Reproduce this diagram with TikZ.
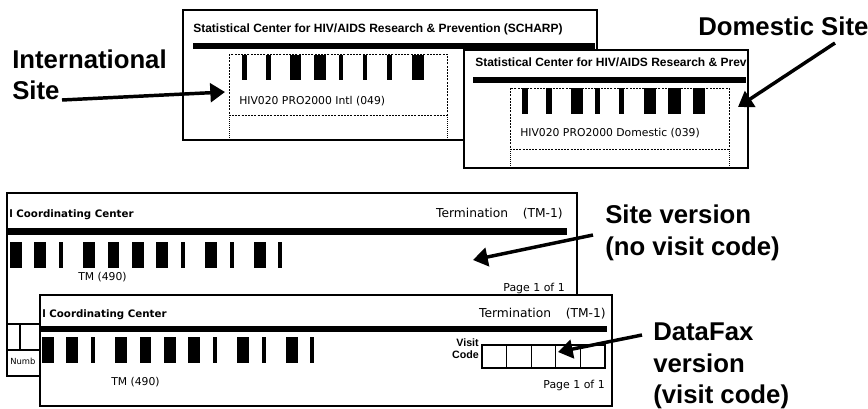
\documentclass[tikz,border=0pt]{standalone}
\usepackage{fontspec}
\setmainfont{Liberation Sans}
\newfontfamily\dvs{DejaVu Sans}
\usetikzlibrary{arrows.meta}
\begin{document}
\begin{tikzpicture}[x=0.75pt,y=-0.75pt,
  formbox/.style={draw=black,line width=1.5pt,fill=white},
  dashbox/.style={draw=black,line width=0.6pt,dash pattern=on 1.5pt off 0.9pt},
  dotline/.style={draw=black,line width=0.6pt,dash pattern=on 0.6pt off 0.9pt},
  thinline/.style={draw=black,line width=1pt},
  sharphdr/.style={font=\bfseries\fontsize{9}{11}\selectfont,inner sep=0pt,anchor=base west},
  cchdr/.style={font=\dvs\bfseries\fontsize{7.7}{9}\selectfont,inner sep=0pt,anchor=base west},
  formtxt/.style={font=\dvs\fontsize{8.1}{9.7}\selectfont,inner sep=0pt,anchor=base west},
  termtxt/.style={font=\dvs\fontsize{9.2}{11}\selectfont,inner sep=0pt,anchor=base east},
  pagetxt/.style={font=\dvs\fontsize{8.2}{10}\selectfont,inner sep=0pt,anchor=base east},
  visittxt/.style={font=\bfseries\fontsize{8}{9.5}\selectfont,inner sep=0pt,align=right,anchor=north east},
  smalltxt/.style={font=\dvs\fontsize{6.3}{7.5}\selectfont,inner sep=0pt,anchor=base west},
  callout/.style={font=\bfseries\fontsize{19.3}{23.5}\selectfont,inner sep=0pt,align=left},
  pointer/.style={line width=2.6pt,-{Triangle[length=11pt,width=14pt]}},
]
\useasboundingbox[fill=white] (0,0) rectangle (868,408);

% ---------- Form A: international ----------
\path[formbox] (183,10) rectangle (597,140);
\node[sharphdr] (hdrA) at (193,32) {Statistical Center for HIV/AIDS Research \& Prevention (SCHARP)};
\fill (193,43) rectangle (595,49);
\draw[dashbox] (229,54) rectangle (447,115);
\draw[dotline] (229,115) -- (229,140) (447,115) -- (447,140);
\foreach \x/\w in {241.5/5.5,266/5,290/11,314/12,338.5/4.5,362.5/4.5,387/5,412/12}
  \fill (\x,55) rectangle ++(\w,25);
\node[formtxt] (capA) at (239,104) {HIV020 PRO2000 Intl (049)};

% ---------- Form B: domestic ----------
\path[formbox] (464,50) rectangle (748,168);
\node[sharphdr] (hdrB) at (475,66.5) {Statistical Center for HIV/AIDS Research \& Prev};
\fill (473,77) rectangle (746,83);
\draw[dashbox] (510,88) rectangle (729,149);
\draw[dotline] (510,149) -- (510,168) (729,149) -- (729,168);
\foreach \x/\w in {521.5/6.5,546/5.5,570.5/12,594.5/5,619/5,643.5/12.5,668/13,692.5/12}
  \fill (\x,88) rectangle ++(\w,26);
\node[formtxt] (capB) at (520,136) {HIV020 PRO2000 Domestic (039)};

% ---------- Form C: site version ----------
\path[formbox] (7,193) rectangle (577,376);
\node[cchdr] (ccC) at (9,217) {l Coordinating Center};
\node[termtxt] (termC) at (563,217) {Termination\hspace{1.2em}(TM-1)};
\fill (7,228) rectangle (567,235);
\foreach \i/\w in {0/11.5,1/11.5,2/4,3/11.5,4/11.5,5/11.5,6/11.5,7/4,8/11.5,9/4,10/11.5,11/4}
  \fill ({10+\i*24.4},242) rectangle ++(\w,26);
\node[formtxt] (tmC) at (78,280) {TM (490)};
\node[pagetxt] (pgC) at (565,291) {Page 1 of 1};
\draw[thinline] (7,324) -- (45,324) (20,324) -- (20,350) (7,350) -- (45,350);
\node[smalltxt] (numb) at (10,364) {Numb};

% ---------- Form D: DataFax version ----------
\path[formbox] (40,295) rectangle (612,406);
\node[cchdr] (ccD) at (42,317) {l Coordinating Center};
\node[termtxt] (termD) at (606,317) {Termination\hspace{1.2em}(TM-1)};
\fill (40,326) rectangle (607,332);
\foreach \i/\w in {0/11.5,1/11.5,2/4,3/11.5,4/11.5,5/11.5,6/11.5,7/4,8/11.5,9/4,10/11.5,11/4}
  \fill ({42+\i*24.4},337) rectangle ++(\w,26);
\node[visittxt] (visit) at (479,338) {Visit\\Code};
\draw[thinline] (482,345) rectangle (605,368);
\foreach \k in {1,...,4}
  \draw[thinline] ({482+\k*24.6},345) -- ++(0,23);
\node[formtxt] (tmD) at (111,385) {TM (490)};
\node[pagetxt] (pgD) at (605,388) {Page 1 of 1};

% ---------- Callouts ----------
\node[callout,anchor=north west] (intl) at (12,49.5) {International\\Site};
\node[callout,anchor=base west] (dom) at (698,35) {Domestic Site};
\node[callout,anchor=north west] (sitever) at (605,205) {Site version\\(no visit code)};
\node[callout,anchor=north west] (dfax) at (653,323) {DataFax\\version\\(visit code)};

\coordinate (intlTail) at (62,100);
\coordinate (intlTip) at (225,92);
\coordinate (domTail) at (835,43);
\coordinate (domTip) at (738,107);
\coordinate (siteTail) at (593,235);
\coordinate (siteTip) at (473,260);
\coordinate (dfTail) at (642,335);
\coordinate (dfTip) at (558,352);

\draw[pointer] (intlTail) -- (intlTip);
\draw[pointer] (domTail) -- (domTip);
\draw[pointer] (siteTail) -- (siteTip);
\draw[pointer] (dfTail) -- (dfTip);
\end{tikzpicture}
\end{document}
